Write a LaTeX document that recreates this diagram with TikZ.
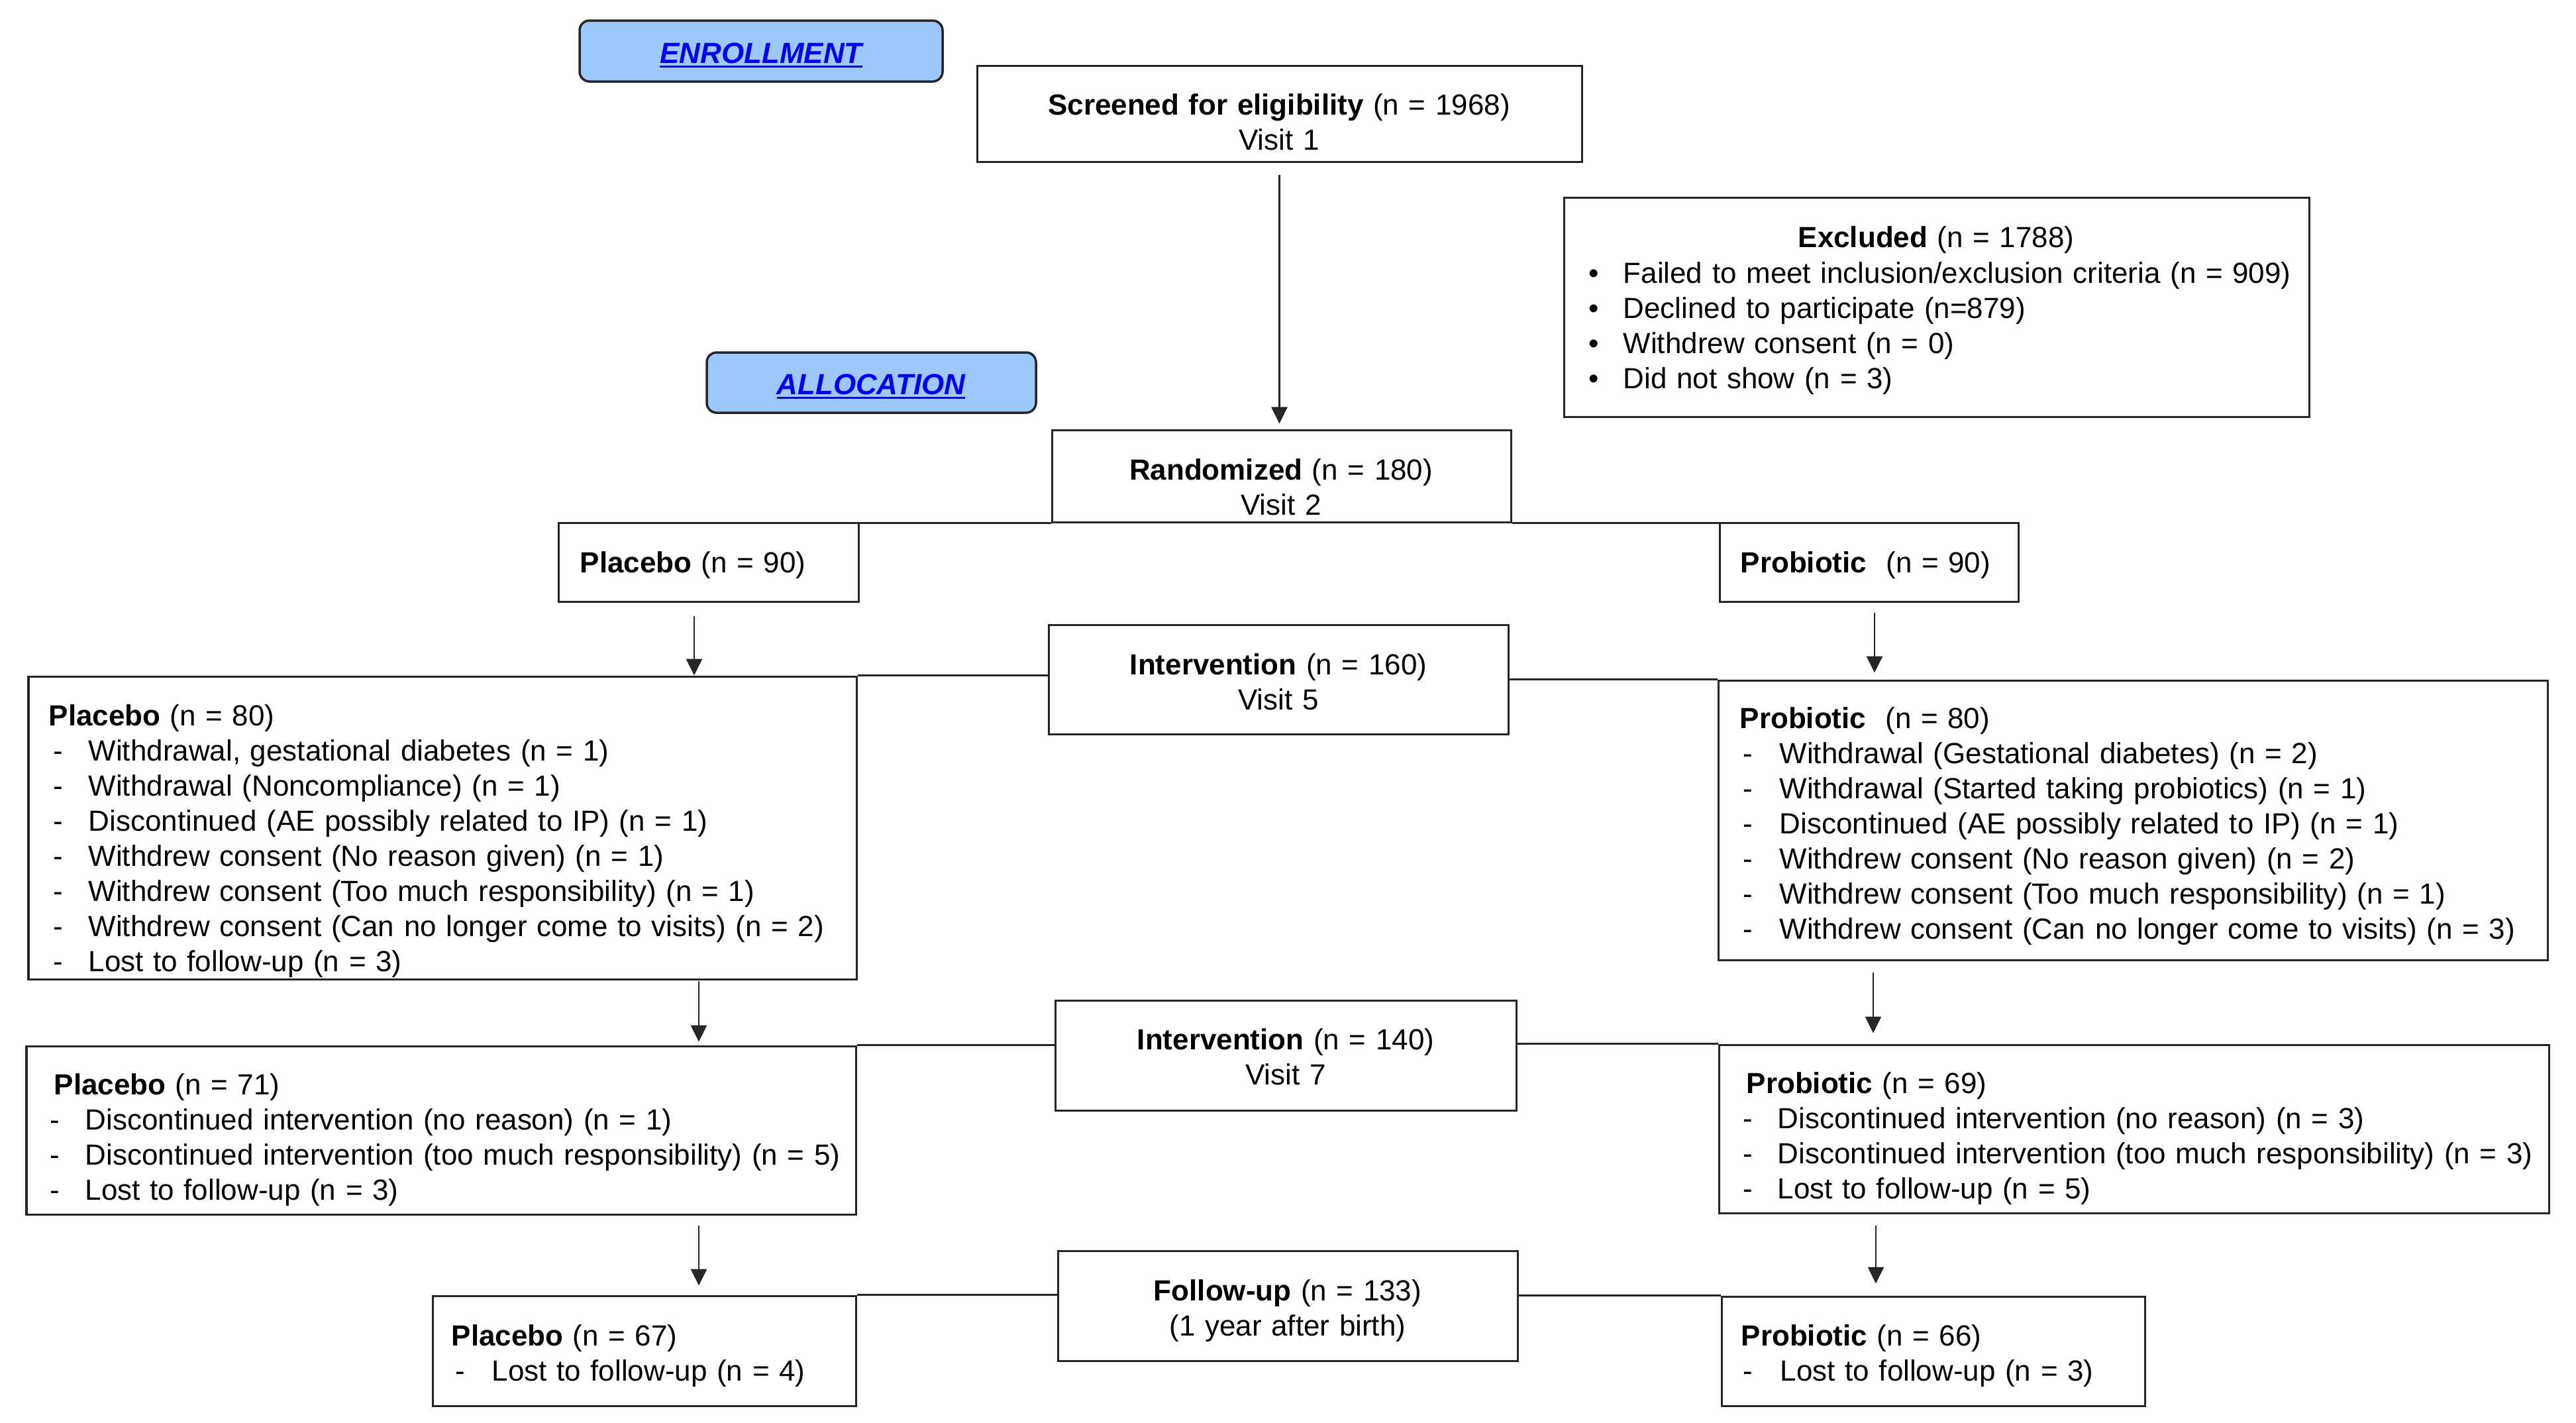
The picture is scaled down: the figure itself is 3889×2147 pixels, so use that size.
\documentclass[tikz,border=0pt]{standalone}
\usepackage{fontspec}
\setmainfont{Liberation Sans}
\usetikzlibrary{arrows.meta,fit}
\definecolor{phaseblue}{HTML}{9DC8FB}
\definecolor{linkblue}{HTML}{0000F0}
\definecolor{edgegray}{HTML}{262626}
\newcommand{\fs}{\fontsize{12.5pt}{15.1pt}\selectfont}
\newsavebox{\ulsb}
\newcommand{\ulx}[1]{\sbox\ulsb{#1}\rlap{\rule[-0.065cm]{\wd\ulsb}{0.03cm}}\usebox\ulsb}
\newcommand{\dl}[2]{\hspace*{#1}\makebox[#2][l]{-}}
\newcommand{\bl}{\makebox[0.52cm][l]{•}}
\begin{document}
\begin{tikzpicture}[x=0.01cm,y=-0.01cm,
  flowbox/.style={draw=edgegray, line width=0.03cm, inner sep=0pt},
  phase/.style={draw=edgegray, line width=0.035cm, fill=phaseblue, rounded corners=0.15cm, inner sep=0pt},
  phasetxt/.style={inner sep=0pt, text=linkblue, font=\fs\bfseries\itshape, anchor=base},
  conn/.style={draw=edgegray, line width=0.028cm},
  arr/.style={conn, -{Triangle[width=0.24cm,length=0.25cm]}},
  ltxt/.style={inner sep=0pt, font=\fs, align=left, text width=13cm, anchor=base west},
  ctxt/.style={inner sep=0pt, font=\fs, align=center, text width=9cm, anchor=base},
]
\useasboundingbox (0,0) rectangle (3889,2147);

% phase labels
\node[phase, fit={(875,31) (1423,123)}] (enr) {};
\node[phasetxt] (enrT) at (1149,95) {\ulx{ENROLLMENT}};
\node[phase, fit={(1067,532) (1564,623)}] (alloc) {};
\node[phasetxt] (allocT) at (1315,595) {\ulx{ALLOCATION}};

% screening
\node[flowbox, fit={(1475,99) (2388,244)}] (scr) {};
\node[ctxt] (scrT) at (1931,173) {\textbf{Screened for eligibility} (n = 1968)\\Visit 1};

\node[flowbox, fit={(2361,298) (3486,629)}] (exc) {};
\node[ctxt] (excT) at (2923,373) {\textbf{Excluded} (n = 1788)};
\node[ltxt] (excL) at (2398,427) {\bl Failed to meet inclusion/exclusion criteria (n = 909)\\
\bl Declined to participate (n=879)\\
\bl Withdrew consent (n = 0)\\
\bl Did not show (n = 3)};

% randomization
\node[flowbox, fit={(1588,649) (2281,788)}] (rand) {};
\node[ctxt] (randT) at (1934,724) {\textbf{Randomized} (n = 180)\\Visit 2};

\node[flowbox, fit={(843,789) (1296,908)}] (p90) {};
\node[ltxt] (p90T) at (875,864) {\textbf{Placebo} (n = 90)};
\node[flowbox, fit={(2596,789) (3047,908)}] (pr90) {};
\node[ltxt] (pr90T) at (2627,864) {\textbf{Probiotic}\ \ (n = 90)};

% visit 5
\node[flowbox, fit={(1583,943) (2277,1108)}] (i160) {};
\node[ctxt] (i160T) at (1930,1018) {\textbf{Intervention} (n = 160)\\Visit 5};

\node[flowbox, fit={(43,1021) (1293,1478)}] (p80) {};
\node[ltxt] (p80T) at (73,1095) {\textbf{Placebo} (n = 80)\\
\dl{0.07cm}{0.53cm}Withdrawal, gestational diabetes (n = 1)\\
\dl{0.07cm}{0.53cm}Withdrawal (Noncompliance) (n = 1)\\
\dl{0.07cm}{0.53cm}Discontinued (AE possibly related to IP) (n = 1)\\
\dl{0.07cm}{0.53cm}Withdrew consent (No reason given) (n = 1)\\
\dl{0.07cm}{0.53cm}Withdrew consent (Too much responsibility) (n = 1)\\
\dl{0.07cm}{0.53cm}Withdrew consent (Can no longer come to visits) (n = 2)\\
\dl{0.07cm}{0.53cm}Lost to follow-up (n = 3)};

\node[flowbox, fit={(2594,1027) (3846,1449)}] (pr80) {};
\node[ltxt] (pr80T) at (2626,1099) {\textbf{Probiotic}\ \ (n = 80)\\
\dl{0.05cm}{0.55cm}Withdrawal (Gestational diabetes) (n = 2)\\
\dl{0.05cm}{0.55cm}Withdrawal (Started taking probiotics) (n = 1)\\
\dl{0.05cm}{0.55cm}Discontinued (AE possibly related to IP) (n = 1)\\
\dl{0.05cm}{0.55cm}Withdrew consent (No reason given) (n = 2)\\
\dl{0.05cm}{0.55cm}Withdrew consent (Too much responsibility) (n = 1)\\
\dl{0.05cm}{0.55cm}Withdrew consent (Can no longer come to visits) (n = 3)};

% visit 7
\node[flowbox, fit={(1593,1510) (2289,1676)}] (i140) {};
\node[ctxt] (i140T) at (1941,1584) {\textbf{Intervention} (n = 140)\\Visit 7};

\node[flowbox, fit={(40,1579) (1292,1833)}] (p71) {};
\node[ltxt] (p71T) at (75,1652) {\hspace*{0.06cm}\textbf{Placebo} (n = 71)\\
\dl{0cm}{0.53cm}Discontinued intervention (no reason) (n = 1)\\
\dl{0cm}{0.53cm}Discontinued intervention (too much responsibility) (n = 5)\\
\dl{0cm}{0.53cm}Lost to follow-up (n = 3)};

\node[flowbox, fit={(2595,1577) (3848,1831)}] (pr69) {};
\node[ltxt] (pr69T) at (2631,1650) {\hspace*{0.05cm}\textbf{Probiotic} (n = 69)\\
\dl{0cm}{0.52cm}Discontinued intervention (no reason) (n = 3)\\
\dl{0cm}{0.52cm}Discontinued intervention (too much responsibility) (n = 3)\\
\dl{0cm}{0.52cm}Lost to follow-up (n = 5)};

% follow-up
\node[flowbox, fit={(1597,1888) (2291,2054)}] (fu) {};
\node[ctxt] (fuT) at (1944,1963) {\textbf{Follow-up} (n = 133)\\(1 year after birth)};

\node[flowbox, fit={(653,1956) (1292,2122)}] (p67) {};
\node[ltxt] (p67T) at (681,2031) {\textbf{Placebo} (n = 67)\\
\dl{0.06cm}{0.55cm}Lost to follow-up (n = 4)};

\node[flowbox, fit={(2599,1957) (3238,2122)}] (pr66) {};
\node[ltxt] (pr66T) at (2628,2031) {\textbf{Probiotic} (n = 66)\\
\dl{0.03cm}{0.56cm}Lost to follow-up (n = 3)};

% arrow start points
\coordinate (a1) at (1048,930);
\coordinate (a2) at (2830,925);
\coordinate (a3) at (1055,1481);
\coordinate (a4) at (2828,1468);
\coordinate (a5) at (1055,1850);
\coordinate (a6) at (2832,1850);

% vertical arrows
\draw[arr, shorten <=0.18cm, shorten >=0.08cm] (scr.south) -- (scr.south |- rand.north);
\draw[arr] (a1) -- (a1 |- p80.north);
\draw[arr, shorten >=0.1cm] (a2) -- (a2 |- pr80.north);
\draw[arr, shorten >=0.05cm] (a3) -- (a3 |- p71.north);
\draw[arr, shorten >=0.16cm] (a4) -- (a4 |- pr69.north);
\draw[arr, shorten >=0.14cm] (a5) -- (a5 |- p67.north);
\draw[arr, shorten >=0.18cm] (a6) -- (a6 |- pr66.north);

% horizontal connectors
\draw[conn] (a1 |- rand.south) -- (rand.south west);
\draw[conn] (rand.south east) -- (a2 |- rand.south);
\draw[conn] (p80.north east) -- (p80.north east -| i160.west);
\draw[conn] (pr80.north west) -- (pr80.north west -| i160.east);
\draw[conn] (p71.north east) -- (p71.north east -| i140.west);
\draw[conn] (pr69.north west) -- (pr69.north west -| i140.east);
\draw[conn] (p67.north east) -- (p67.north east -| fu.west);
\draw[conn] (pr66.north west) -- (pr66.north west -| fu.east);
\end{tikzpicture}
\end{document}
